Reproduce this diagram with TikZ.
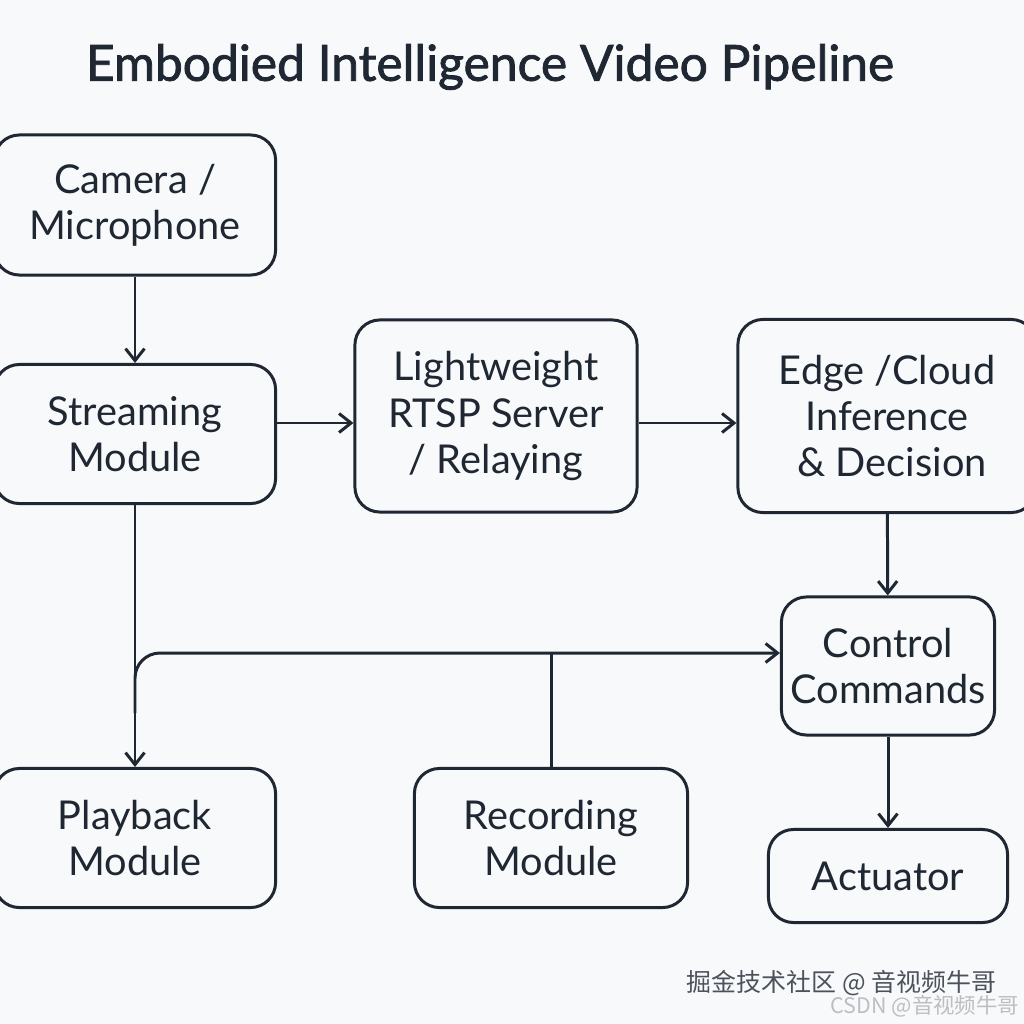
\documentclass[tikz,border=0pt]{standalone}
\usepackage{fontspec}
\setmainfont{Lato}
\newfontfamily\titlefont{Lato}[FakeBold=1.6]
\newfontfamily\cjk{Noto Sans CJK SC}
\usetikzlibrary{arrows.meta}
\definecolor{ink}{HTML}{1F2733}
\definecolor{paper}{HTML}{F8F9FA}
\begin{document}
\begin{tikzpicture}[x=0.01cm, y=-0.01cm,
        box/.style={draw=ink, line width=0.85pt, rounded corners=0.25cm,
            align=center, text=ink, font=\fontsize{11.3}{13.2}\selectfont, inner sep=0pt},
        >={Straight Barb[length=3.4pt, width=5.4pt]}]
        \useasboundingbox (0, 0) rectangle (1024, 1024);
        \fill[paper] (0, 0) rectangle (1024, 1024);

        \node[text=ink, font=\titlefont\fontsize{14.15}{17}\selectfont] (title) at (490, 67) {Embodied Intelligence Video Pipeline};

        \node[box, minimum width=2.81cm, minimum height=1.40cm] (cam) at (135, 205) {Camera /\\Microphone};
        \node[box, minimum width=2.81cm, minimum height=1.39cm] (stream) at (135, 434) {Streaming\\Module};
        \node[box, minimum width=2.82cm, minimum height=1.92cm] (rtsp) at (496, 416) {Lightweight\\RTSP Server\\/ Relaying};
        \node[box, minimum width=2.98cm, minimum height=1.93cm] (infer) at (887, 416) {Edge /Cloud\\Inference\\\ \& Decision};
        \node[box, minimum width=2.13cm, minimum height=1.38cm] (ctrl) at (888, 666) {Control\\Commands};
        \node[box, minimum width=2.39cm, minimum height=0.93cm] (act) at (888, 876) {Actuator};
        \node[box, minimum width=2.81cm, minimum height=1.39cm] (play) at (135, 838) {Playback\\Module};
        \node[box, minimum width=2.73cm, minimum height=1.39cm] (rec) at (551, 838) {Recording\\Module};

        \coordinate (feed) at (135, 423);
        \coordinate (bus) at (135, 653);

        \draw[->, ink, line width=0.85pt] (cam) -- (stream);
        \draw[->, ink, line width=0.85pt] (stream.east |- feed) -- (rtsp.west |- feed);
        \draw[->, ink, line width=0.85pt] (rtsp.east |- feed) -- (infer.west |- feed);
        \draw[->, ink, line width=0.85pt] (infer) -- (ctrl);
        \draw[->, ink, line width=0.85pt] (ctrl) -- (act);
        \draw[->, ink, line width=0.85pt] (stream) -- (play);
        \draw[->, ink, line width=0.85pt, rounded corners=0.25cm] ([yshift=-0.6cm]bus) -- (bus) -- (bus -| ctrl.west);
        \draw[ink, line width=0.85pt] (rec) -- (rec.north |- bus);

        \node[anchor=east, inner sep=0pt, text=ink!80, font=\cjk\fontsize{7.1}{8}\selectfont] (mark) at (997, 983) {掘金技术社区 @ 音视频牛哥};
        \node[anchor=east, inner sep=0pt, text=ink!30, font=\cjk\fontsize{6.1}{7}\selectfont] (csdn) at (1020, 1006) {CSDN @音视频牛哥};
    \end{tikzpicture}
\end{document}
